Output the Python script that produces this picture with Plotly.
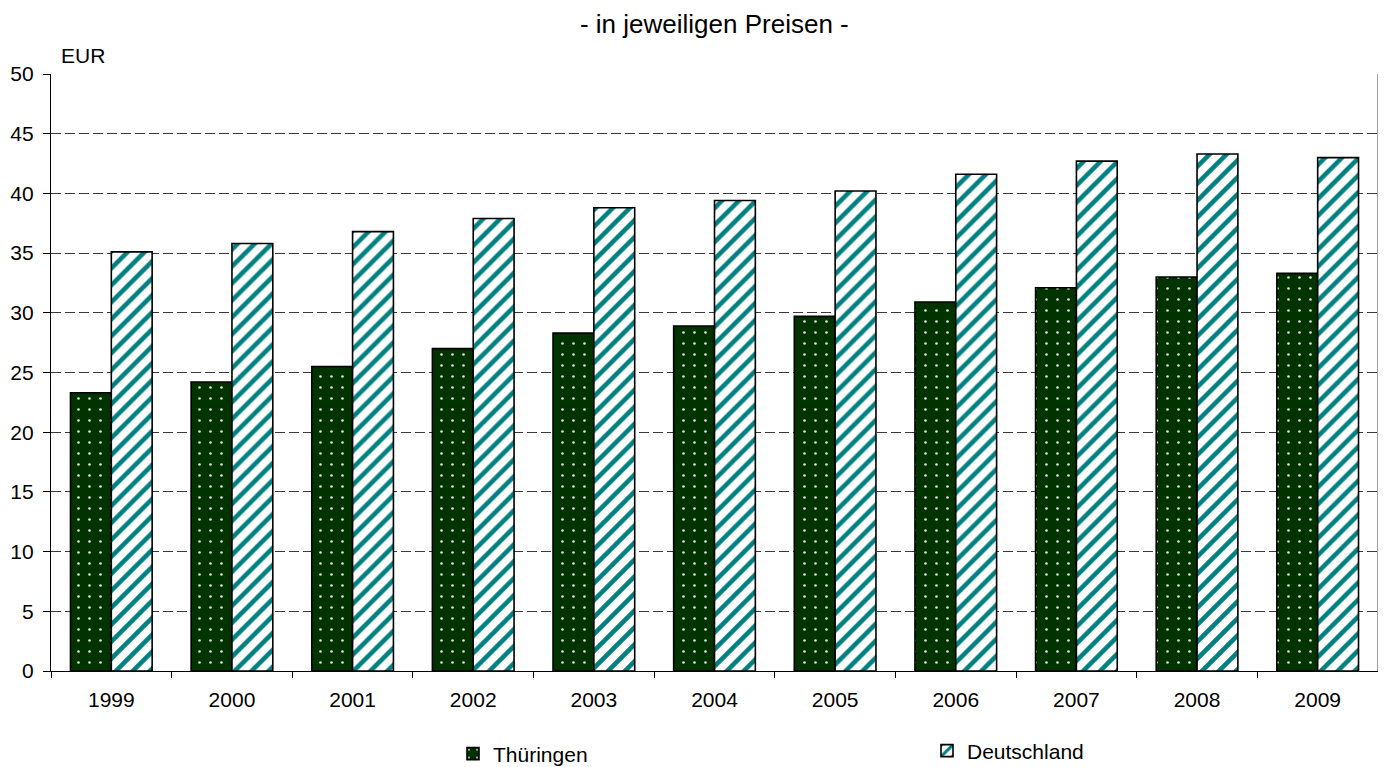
import plotly.graph_objects as go

years = ["1999", "2000", "2001", "2002", "2003", "2004", "2005", "2006", "2007", "2008", "2009"]
thueringen = [23.3, 24.2, 25.5, 27.0, 28.3, 28.9, 29.7, 30.9, 32.1, 33.0, 33.3]
deutschland = [35.1, 35.8, 36.8, 37.9, 38.8, 39.4, 40.2, 41.6, 42.7, 43.3, 43.0]

title_text = "- in jeweiligen Preisen -"
unit_text = "EUR"
FONT = "Liberation Sans, Arial, sans-serif"

# page has an 8px body margin; figure coordinates = page coordinates - 8
OFF = 8
W, H = 1386 - OFF, 767 - OFF
ML, MR, MT, MB = 50.7 - OFF, 8, 73.5 - OFF, 95.5
plot_w = W - ML - MR
plot_h = H - MT - MB

fig = go.Figure()
fig.add_trace(go.Bar(
    x=years, y=thueringen, name="Thüringen", legend="legend",
    marker=dict(
        color="#003300",
        line=dict(color="black", width=1.6),
        pattern=dict(shape=".", fillmode="replace", bgcolor="#003300",
                     fgcolor="#d8e0d8", size=11, solidity=0.045),
    ),
))
fig.add_trace(go.Bar(
    x=years, y=deutschland, name="Deutschland", legend="legend2",
    marker=dict(
        color="white",
        line=dict(color="black", width=1.6),
        pattern=dict(shape="/", fillmode="replace", bgcolor="white",
                     fgcolor="#008080", size=12, solidity=0.38),
    ),
))

leg_common = dict(orientation="h", xref="container", yref="container",
                  xanchor="left", yanchor="middle",
                  font=dict(size=21, family=FONT, color="black"),
                  bgcolor="rgba(0,0,0,0)")

fig.update_layout(
    width=W, height=H,
    margin=dict(l=ML, r=MR, t=MT, b=MB, pad=0, autoexpand=False),
    paper_bgcolor="white", plot_bgcolor="white",
    font=dict(family=FONT, size=20, color="black"),
    barmode="group", bargap=0.323, bargroupgap=0,
    showlegend=True,
    title=dict(text=title_text, x=(ML + plot_w / 2) / W, xanchor="center",
               y=1 - (24 - OFF) / H, yanchor="middle", font=dict(size=26, family=FONT, color="black")),
    legend=dict(x=(492 - 39 - OFF) / W, y=1 - (754 - OFF) / H, **leg_common),
    legend2=dict(x=(968 - 41 - OFF) / W, y=1 - (751 - OFF) / H, **leg_common),
    xaxis=dict(
        type="category", showline=True, linecolor="black", linewidth=1.3,
        ticks="outside", tickson="boundaries", ticklen=6, tickcolor="black", tickwidth=1,
        showgrid=False, tickfont=dict(size=21), ticklabelstandoff=10,
    ),
    yaxis=dict(
        range=[0, 50], dtick=5, tick0=0, showline=True, linecolor="black", linewidth=1.3,
        ticks="outside", ticklen=7, tickcolor="black", tickwidth=1,
        showgrid=True, gridcolor="#3a3a3a", gridwidth=1, griddash="10px,4px",
        zeroline=False, tickfont=dict(size=21), ticklabelstandoff=5,
    ),
    shapes=[dict(type="line", xref="paper", yref="paper", x0=1, x1=1, y0=0, y1=1,
                 line=dict(color="#808080", width=1.5))],
    annotations=[dict(text=unit_text, xref="paper", yref="paper",
                      x=(59 - OFF - ML) / plot_w, y=1 + (73.5 - 55) / plot_h,
                      xanchor="left", yanchor="middle", showarrow=False,
                      font=dict(size=21, family=FONT, color="black"))],
)

fig.write_html("out.html")
